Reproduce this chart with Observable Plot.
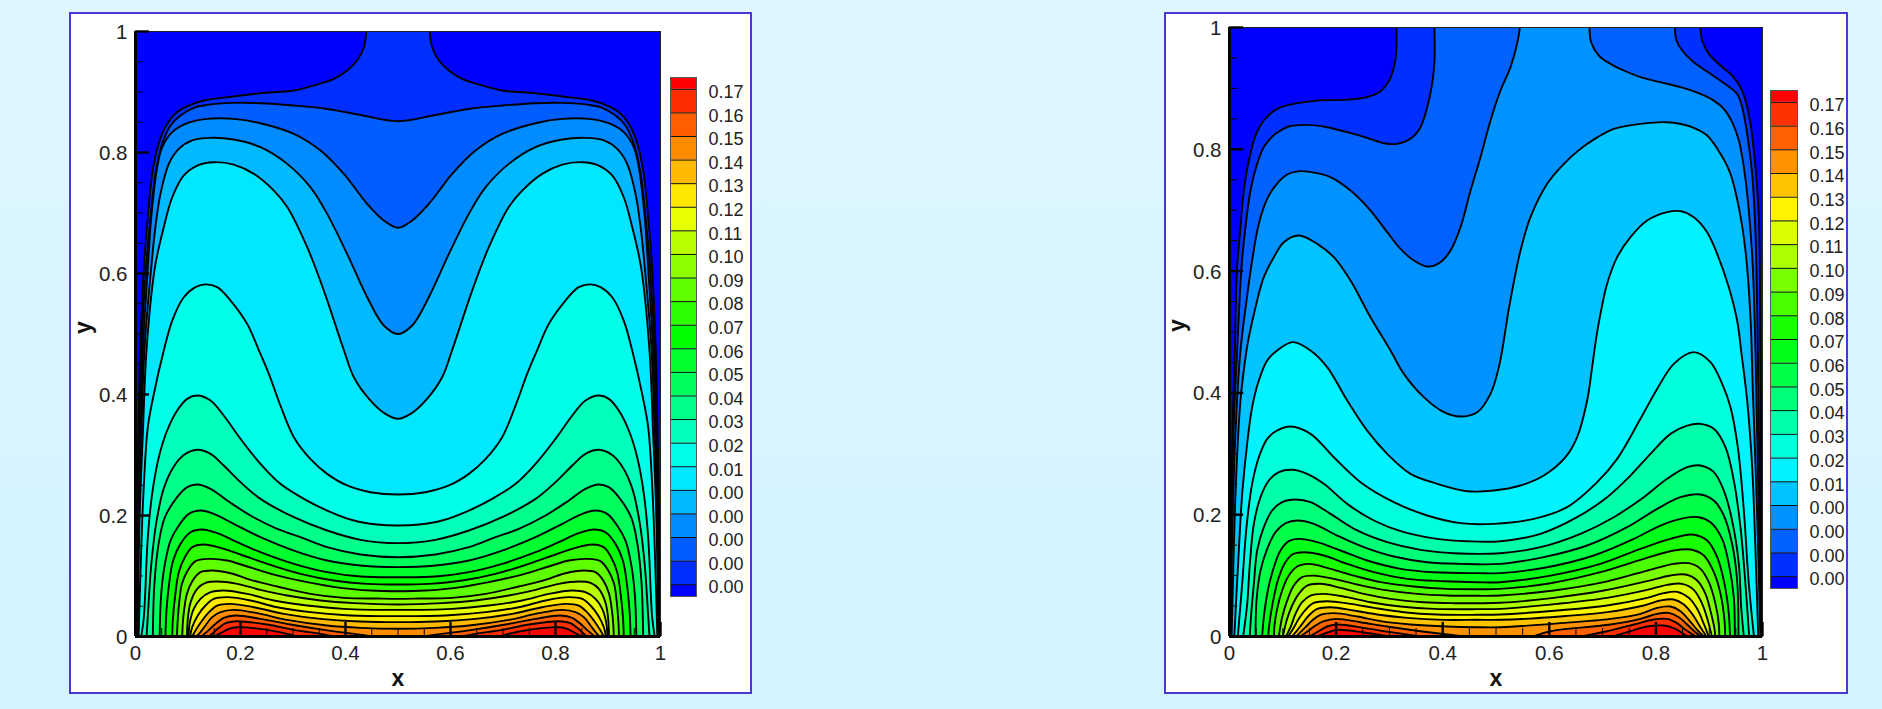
<!DOCTYPE html>
<html><head><meta charset="utf-8">
<style>
html,body{margin:0;padding:0;width:1882px;height:709px;overflow:hidden;background:linear-gradient(#e0f7ff,#d2f3ff);font-family:"Liberation Sans",Arial,sans-serif}
.box{position:absolute;background:#fff;box-sizing:border-box;border:2px solid #4b38d2}
.abs{position:absolute}
svg{display:block;background:transparent!important}
</style>
<script src="https://cdn.jsdelivr.net/npm/d3@7"></script>
<script src="https://cdn.jsdelivr.net/npm/@observablehq/plot@0.6"></script>
</head><body>
<div class="box" style="left:69px;top:12px;width:683px;height:682px"></div>
<div class="box" style="left:1164px;top:12px;width:684px;height:682px"></div>
<script>
const majorTicks=[0,.2,.4,.6,.8,1];
const minorTicks=[.05,.1,.15,.25,.3,.35,.45,.5,.55,.65,.7,.75,.85,.9,.95];
const leftLabels=["0.17","0.16","0.15","0.14","0.13","0.12","0.11","0.10","0.09","0.08","0.07","0.06","0.05","0.04","0.03","0.02","0.01","0.00","0.00","0.00","0.00","0.00"];
const rightLabels=["0.17","0.16","0.15","0.14","0.13","0.12","0.11","0.10","0.09","0.08","0.07","0.06","0.05","0.04","0.03","0.02","0.01","0.00","0.00","0.00","0.00"];
const leftColors=["#ff0000","#ff2e00","#ff5d00","#ff8b00","#ffba00","#ffe800","#e8ff00","#b9ff00","#8bff00","#5dff00","#2eff00","#00ff00","#00ff2e","#00ff5d","#00ff8b","#00ffba","#00ffe8","#00e8ff","#00b9ff","#008bff","#005dff","#002eff","#0000ff"];
const rightColors=["#ff0000","#ff3000","#ff6100","#ff9200","#ffc300","#fff300","#dbff00","#aaff00","#79ff00","#49ff00","#18ff00","#00ff18","#00ff49","#00ff79","#00ffaa","#00ffdb","#00f3ff","#00c3ff","#0092ff","#0061ff","#0030ff","#0000ff"];

// Left panel contours as [x, y]
const L1=[[.001,0],[.003,.2],[.0055,.335],[.009,.473],[.016,.61],[.0235,.693],[.032,.765],[.044,.8143],[.06,.8473],[.079,.8666],[.102,.8776],[.13,.886],[.187,.8925],[.238,.898],[.3016,.9024],[.34,.911],[.378,.9217],[.403,.9355],[.422,.952],[.435,.974],[.4394,1],[.4394,1.06],[.5606,1.06],[.5606,1],[.565,.974],[.578,.952],[.597,.9355],[.622,.9217],[.66,.911],[.6984,.9024],[.762,.898],[.813,.8925],[.87,.886],[.898,.8776],[.921,.8666],[.94,.8473],[.956,.8143],[.968,.765],[.9765,.693],[.984,.61],[.991,.473],[.9945,.335],[.997,.2],[.999,0]];
const L2=[[.0015,0],[.004,.2],[.007,.335],[.011,.473],[.02,.61],[.0286,.693],[.038,.765],[.051,.8143],[.0667,.8446],[.0857,.861],[.111,.8738],[.1365,.8787],[.187,.882],[.238,.8815],[.3016,.8776],[.365,.872],[.4286,.862],[.5,.8517],[.5714,.862],[.635,.872],[.6984,.8776],[.762,.8815],[.813,.882],[.8635,.8787],[.889,.8738],[.9143,.861],[.9333,.8446],[.949,.8143],[.962,.765],[.9714,.693],[.98,.61],[.989,.473],[.993,.335],[.996,.2],[.9985,0]];
const L3=[[.002,0],[.005,.2],[.009,.335],[.014,.473],[.0235,.61],[.03,.693],[.0413,.7757],[.051,.8088],[.07,.8336],[.0984,.8484],[.1365,.8556],[.187,.8556],[.238,.8484],[.3016,.8308],[.3524,.8033],[.3968,.7647],[.4413,.715],[.473,.6876],[.5,.6755],[.527,.6876],[.5587,.715],[.6032,.7647],[.6476,.8033],[.6984,.8308],[.762,.8484],[.813,.8556],[.8635,.8556],[.9016,.8484],[.93,.8336],[.949,.8088],[.9587,.7757],[.97,.693],[.9765,.61],[.986,.473],[.991,.335],[.995,.2],[.998,0]];
const L4=[[.003,0],[.0065,.2],[.011,.335],[.017,.473],[.03,.61],[.038,.677],[.0476,.7316],[.0635,.7812],[.0825,.806],[.108,.82],[.143,.8242],[.187,.8214],[.238,.8088],[.289,.7812],[.333,.7427],[.365,.6986],[.403,.6325],[.4413,.5608],[.473,.514],[.5,.5],[.527,.514],[.5587,.5608],[.597,.6325],[.635,.6986],[.667,.7427],[.711,.7812],[.762,.8088],[.813,.8214],[.857,.8242],[.892,.82],[.9175,.806],[.9365,.7812],[.9524,.7316],[.962,.677],[.97,.61],[.983,.473],[.989,.335],[.9935,.2],[.997,0]];
const L5=[[.004,0],[.008,.2],[.014,.335],[.021,.473],[.037,.61],[.054,.677],[.07,.726],[.092,.762],[.1175,.7785],[.149,.784],[.187,.78],[.2254,.7647],[.2635,.737],[.289,.71],[.327,.6435],[.3587,.5718],[.397,.473],[.4159,.4286],[.4476,.39],[.476,.368],[.5,.36],[.524,.368],[.5524,.39],[.5841,.4286],[.603,.473],[.6413,.5718],[.673,.6435],[.711,.71],[.7365,.737],[.7746,.7647],[.813,.78],[.851,.784],[.8825,.7785],[.908,.762],[.93,.726],[.946,.677],[.963,.61],[.979,.473],[.986,.335],[.992,.2],[.996,0]];
const L6=[[.006,0],[.0108,.142],[.016,.2523],[.0235,.346],[.035,.4011],[.054,.473],[.07,.5222],[.092,.5608],[.1143,.5774],[.1333,.582],[.1556,.5774],[.181,.5553],[.2127,.5167],[.235,.473],[.254,.434],[.276,.3818],[.3016,.3295],[.333,.2936],[.365,.2688],[.403,.2496],[.4476,.2385],[.5,.2347],[.5524,.2385],[.597,.2496],[.635,.2688],[.667,.2936],[.6984,.3295],[.724,.3818],[.746,.434],[.765,.473],[.7873,.5167],[.819,.5553],[.8444,.5774],[.8667,.582],[.8857,.5774],[.908,.5608],[.93,.5222],[.946,.473],[.965,.4011],[.9765,.346],[.984,.2523],[.9892,.142],[.994,0]];
const L7=[[.011,0],[.0159,.032],[.0235,.1642],[.0317,.2358],[.0444,.2964],[.0603,.3405],[.0794,.3735],[.0984,.3928],[.1175,.3983],[.1429,.39],[.168,.3653],[.2,.3267],[.238,.2854],[.276,.2523],[.3206,.2275],[.365,.2082],[.416,.1917],[.46,.1851],[.5,.1834],[.54,.1851],[.584,.1917],[.635,.2082],[.6794,.2275],[.724,.2523],[.762,.2854],[.8,.3267],[.832,.3653],[.8571,.39],[.8825,.3983],[.9016,.3928],[.9206,.3735],[.9397,.3405],[.9556,.2964],[.9683,.2358],[.9765,.1642],[.9841,.032],[.989,0]];
const L8=[[.021,0],[.024,.0414],[.03,.1186],[.04,.1902],[.054,.2453],[.073,.2811],[.092,.3],[.1175,.3086],[.1429,.3019],[.168,.2826],[.2,.2551],[.238,.2275],[.3016,.1972],[.365,.1752],[.4286,.1598],[.5,.1543],[.5714,.1598],[.635,.1752],[.6984,.1972],[.762,.2275],[.8,.2551],[.832,.2826],[.8571,.3019],[.8825,.3086],[.908,.3],[.927,.2811],[.946,.2453],[.96,.1902],[.97,.1186],[.976,.0414],[.979,0]];
const L9=[[.033,0],[.036,.087],[.044,.1531],[.056,.1972],[.0794,.2303],[.0984,.2468],[.1175,.2512],[.1429,.2441],[.1746,.2248],[.219,.2],[.27,.1779],[.3143,.1642],[.365,.1476],[.4286,.1355],[.5,.1311],[.5714,.1355],[.635,.1476],[.6857,.1642],[.73,.1779],[.781,.2],[.8254,.2248],[.8571,.2441],[.8825,.2512],[.9016,.2468],[.9206,.2303],[.944,.1972],[.956,.1531],[.964,.087],[.967,0]];
const L10=[[.046,0],[.049,.0705],[.056,.12],[.0667,.1586],[.0825,.1834],[.1016,.2027],[.1238,.2082],[.149,.2027],[.187,.1862],[.238,.1642],[.3016,.142],[.365,.1256],[.4286,.1173],[.5,.1146],[.5714,.1173],[.635,.1256],[.6984,.142],[.762,.1642],[.813,.1862],[.851,.2027],[.8762,.2082],[.8984,.2027],[.9175,.1834],[.9333,.1586],[.944,.12],[.951,.0705],[.954,0]];
const L11=[[.057,0],[.059,.043],[.064,.087],[.0717,.1256],[.0857,.1531],[.1048,.1724],[.127,.1768],[.1556,.1708],[.1937,.1559],[.238,.1393],[.3016,.12],[.365,.1063],[.4286,.0991],[.5,.098],[.5714,.0991],[.635,.1063],[.6984,.12],[.762,.1393],[.8063,.1559],[.8444,.1708],[.873,.1768],[.8952,.1724],[.9143,.1531],[.9283,.1256],[.936,.087],[.941,.043],[.943,0]];
const L12=[[.07,0],[.0715,.032],[.076,.0705],[.0825,.1063],[.094,.131],[.108,.1476],[.13,.152],[.162,.1465],[.2,.1355],[.2508,.12],[.3143,.1035],[.3778,.0925],[.4413,.087],[.5,.0859],[.5587,.087],[.6222,.0925],[.6857,.1035],[.7492,.12],[.8,.1355],[.838,.1465],[.87,.152],[.892,.1476],[.906,.131],[.9175,.1063],[.924,.0705],[.9285,.032],[.93,0]];
const L13=[[.079,0],[.08,.021],[.083,.054],[.0885,.087],[.0995,.109],[.1143,.1245],[.14,.1283],[.1746,.1256],[.2127,.1157],[.2635,.1024],[.327,.0898],[.3905,.0804],[.4476,.076],[.5,.0749],[.5524,.076],[.6095,.0804],[.673,.0898],[.7365,.1024],[.7873,.1157],[.8254,.1256],[.86,.1283],[.8857,.1245],[.9005,.109],[.9115,.087],[.917,.054],[.92,.021],[.921,0]];
const L14=[[.089,0],[.09,.02],[.0925,.043],[.098,.0705],[.109,.0925],[.1238,.1063],[.146,.109],[.181,.1046],[.219,.0936],[.27,.0826],[.333,.0705],[.3968,.0639],[.46,.0627],[.5,.0622],[.54,.0627],[.6032,.0639],[.667,.0705],[.73,.0826],[.781,.0936],[.819,.1046],[.854,.109],[.8762,.1063],[.891,.0925],[.902,.0705],[.9075,.043],[.91,.02],[.911,0]];
const L15=[[.098,0],[.1,.032],[.105,.0567],[.1175,.0788],[.1333,.0887],[.1556,.0909],[.1937,.087],[.238,.0771],[.289,.0677],[.3524,.0595],[.416,.0551],[.5,.0529],[.584,.0551],[.6476,.0595],[.711,.0677],[.762,.0771],[.8063,.087],[.8444,.0909],[.8667,.0887],[.8825,.0788],[.895,.0567],[.9,.032],[.902,0]];
const L16=[[.101,0],[.1035,.0236],[.111,.0457],[.1238,.0622],[.143,.0733],[.168,.076],[.2127,.0705],[.2635,.0595],[.327,.0512],[.3968,.0457],[.5,.044],[.6032,.0457],[.673,.0512],[.7365,.0595],[.7873,.0705],[.832,.076],[.857,.0733],[.8762,.0622],[.889,.0457],[.8965,.0236],[.899,0]];
const L17=[[.104,0],[.108,.0154],[.1187,.0347],[.1333,.0512],[.149,.0622],[.1746,.065],[.219,.0595],[.27,.0484],[.333,.0402],[.4095,.0347],[.5,.0336],[.5905,.0347],[.667,.0402],[.73,.0484],[.781,.0595],[.8254,.065],[.851,.0622],[.8667,.0512],[.8813,.0347],[.892,.0154],[.896,0]];
const L18=[[.108,0],[.1143,.0099],[.127,.0264],[.14,.0402],[.1556,.0512],[.181,.054],[.2254,.0484],[.2825,.0375],[.3524,.0292],[.4286,.0248],[.5,.0237],[.5714,.0248],[.6476,.0292],[.7175,.0375],[.7746,.0484],[.819,.054],[.8444,.0512],[.86,.0402],[.873,.0264],[.8857,.0099],[.892,0]];
const L19=[[.116,0],[.1238,.0072],[.1333,.0182],[.146,.032],[.162,.0402],[.187,.044],[.2317,.0386],[.289,.0275],[.365,.0182],[.4286,.0143],[.5,.0127],[.5714,.0143],[.635,.0182],[.711,.0275],[.7683,.0386],[.813,.044],[.838,.0402],[.854,.032],[.8667,.0182],[.8762,.0072],[.884,0]];
const L20a=[[.125,0],[.14,.011],[.1524,.0209],[.168,.0308],[.1905,.0347],[.238,.0292],[.2952,.0198],[.3587,.011],[.4286,.003],[.45,0]];
const L20b=[[.55,0],[.5714,.003],[.6413,.011],[.7048,.0198],[.762,.0292],[.8095,.0347],[.832,.0308],[.8476,.0209],[.86,.011],[.875,0]];
const L21a=[[.14,0],[.146,.0044],[.1587,.0143],[.1714,.022],[.1937,.0253],[.2508,.0198],[.3016,.011],[.3524,.0044],[.38,0]];
const L21b=[[.62,0],[.6476,.0044],[.6984,.011],[.7492,.0198],[.8063,.0253],[.8286,.022],[.8413,.0143],[.854,.0044],[.86,0]];
const L22a=[[.15,0],[.162,.0055],[.178,.0127],[.1937,.0154],[.2508,.011],[.2952,.003],[.305,0]];
const L22b=[[.695,0],[.7048,.003],[.7492,.011],[.8063,.0154],[.822,.0127],[.838,.0055],[.85,0]];
const leftLevels=[[L1],[L2],[L3],[L4],[L5],[L6],[L7],[L8],[L9],[L10],[L11],[L12],[L13],[L14],[L15],[L16],[L17],[L18],[L19],[L20a,L20b],[L21a,L21b],[L22a,L22b]];

// Right panel contours
const R1=[[.001,0],[.003,.2],[.006,.35],[.01,.4696],[.0144,.6064],[.0206,.6721],[.0269,.7323],[.0363,.7816],[.0488,.8226],[.0644,.8473],[.0894,.8664],[.1207,.8746],[.1645,.88],[.2145,.8812],[.258,.8856],[.2833,.8954],[.2958,.9075],[.305,.9239],[.312,.9513],[.3133,.973],[.3133,1],[.3133,1.06],[.8836,1.06],[.8836,1],[.8868,.9786],[.8993,.9567],[.9212,.9376],[.943,.9212],[.9587,.902],[.968,.88],[.9775,.8418],[.9868,.7706],[.9931,.6885],[.9962,.4696],[.999,0]];
const R2=[[.0015,0],[.004,.2],[.008,.35],[.0144,.4696],[.0225,.6064],[.03,.6721],[.0394,.7323],[.0519,.7761],[.0644,.8035],[.0863,.8254],[.1113,.8374],[.1457,.8401],[.1832,.8363],[.2208,.8281],[.2583,.8188],[.2896,.81],[.3146,.8089],[.3396,.8172],[.3583,.8363],[.3709,.8692],[.3802,.9075],[.3846,.9458],[.3846,1],[.3846,1.06],[.8355,1.06],[.8355,1],[.8386,.9786],[.8493,.9622],[.8711,.9431],[.9024,.9239],[.9337,.9047],[.9524,.891],[.9618,.8692],[.9712,.8254],[.9806,.7597],[.9868,.6612],[.9912,.4696],[.998,0]];
const R3=[[.002,0],[.006,.2],[.012,.35],[.0206,.4696],[.032,.5517],[.0425,.6174],[.055,.6776],[.0707,.7186],[.0863,.7405],[.1082,.7586],[.1332,.7641],[.1645,.7608],[.1895,.7542],[.227,.7323],[.2645,.6995],[.2958,.6639],[.3208,.6365],[.3458,.6174],[.3709,.6075],[.3959,.6146],[.4146,.6338],[.4334,.6721],[.4522,.7323],[.4709,.787],[.4897,.8473],[.5084,.8965],[.5272,.9348],[.5395,.9731],[.5447,1],[.5447,1.06],[.6754,1.06],[.6754,1],[.6785,.9759],[.6929,.954],[.7148,.9403],[.7398,.9294],[.7711,.9184],[.8086,.9102],[.846,.902],[.8836,.891],[.9087,.88],[.9274,.8664],[.9431,.8445],[.9556,.8144],[.965,.7706],[.9743,.6995],[.9818,.6064],[.9868,.4696],[.997,0]];
const R4=[[.004,0],[.012,.25],[.0206,.3875],[.0319,.4696],[.0363,.4915],[.0488,.5408],[.0644,.59],[.0832,.6229],[.1019,.6475],[.1301,.6584],[.1645,.6448],[.1957,.6229],[.227,.5845],[.2645,.5243],[.3021,.4696],[.3271,.4313],[.3646,.393],[.4021,.3683],[.4334,.3612],[.4647,.3683],[.4897,.3984],[.5053,.4422],[.5116,.4696],[.5245,.54],[.546,.6338],[.5647,.6885],[.596,.7433],[.6273,.7761],[.6585,.8007],[.69,.8195],[.721,.8336],[.7711,.8418],[.8211,.8445],[.8649,.8374],[.8961,.8226],[.9211,.7925],[.9399,.7597],[.9555,.705],[.968,.6338],[.9774,.5243],[.982,.4],[.99,.2],[.996,0]];
const R5=[[.009,0],[.0175,.1412],[.0238,.2342],[.0331,.3163],[.0425,.3766],[.055,.4203],[.0707,.4532],[.0894,.4696],[.1188,.4833],[.152,.4696],[.1832,.4422],[.2208,.3875],[.2583,.338],[.2958,.2999],[.3396,.2671],[.3896,.2507],[.4459,.2386],[.4959,.2397],[.5459,.2479],[.5897,.2643],[.6304,.2944],[.6523,.3273],[.671,.3875],[.68,.44],[.688,.49],[.697,.5343],[.7085,.5791],[.7273,.6229],[.7523,.6557],[.7836,.683],[.8211,.6968],[.8461,.6984],[.8711,.6885],[.8961,.6639],[.9149,.6283],[.9368,.5736],[.9524,.5188],[.9599,.4696],[.9712,.3875],[.9806,.2781],[.9868,.1412],[.992,0]];
const R6=[[.0156,0],[.0238,.0864],[.0319,.1795],[.0425,.2507],[.055,.2944],[.0707,.3246],[.0894,.3382],[.1144,.3448],[.152,.3328],[.1957,.2944],[.2458,.2534],[.3083,.2206],[.3709,.1987],[.4334,.1861],[.4959,.185],[.571,.1932],[.6335,.2124],[.6898,.2534],[.7273,.2917],[.771,.3574],[.8023,.4066],[.8336,.4477],[.8711,.4669],[.9024,.4504],[.9243,.4149],[.94,.3766],[.9537,.3109],[.965,.2069],[.9743,.0864],[.984,0]];
const R7=[[.0256,0],[.0332,.0536],[.0382,.1193],[.0457,.185],[.0582,.2288],[.0738,.2561],[.0926,.2698],[.1176,.2737],[.1457,.2671],[.177,.2507],[.2208,.2178],[.2708,.1905],[.3271,.1713],[.3896,.1604],[.4459,.1565],[.5084,.1565],[.5834,.1686],[.6522,.1959],[.7085,.2288],[.7523,.2643],[.7898,.3],[.8273,.3327],[.8586,.3464],[.8836,.3492],[.9087,.341],[.9305,.3109],[.9462,.256],[.9587,.1795],[.968,.0864],[.975,0]];
const R8=[[.038,0],[.0407,.0372],[.0457,.0864],[.0519,.1412],[.0644,.1795],[.08,.2069],[.0988,.2206],[.1238,.2249],[.152,.2206],[.1895,.2014],[.2395,.1741],[.2958,.1549],[.3583,.1423],[.4209,.1368],[.5084,.1368],[.5834,.1467],[.6585,.1686],[.721,.1959],[.7773,.2288],[.8211,.2589],[.8586,.278],[.8836,.2808],[.9087,.2698],[.9274,.2397],[.943,.1905],[.9556,.1193],[.96,.048],[.965,0]];
const R9=[[.0488,0],[.0507,.0591],[.0582,.1083],[.0707,.1439],[.0863,.1713],[.105,.186],[.1269,.1905],[.1582,.185],[.202,.1658],[.252,.1467],[.3083,.1313],[.3709,.122],[.4334,.1193],[.5084,.1193],[.5897,.1303],[.671,.1494],[.746,.1795],[.8023,.2096],[.8461,.2288],[.8836,.2332],[.9087,.2233],[.9274,.1987],[.943,.1522],[.9524,.092],[.955,0]];
const R10=[[.0613,0],[.0644,.0317],[.0719,.0755],[.0832,.1138],[.0957,.1412],[.1113,.1565],[.13,.1603],[.1645,.1549],[.2083,.1412],[.2583,.1248],[.3208,.1111],[.3834,.1056],[.4647,.104],[.5084,.104],[.596,.1138],[.6835,.133],[.7586,.1603],[.8086,.1822],[.8524,.1943],[.8805,.1959],[.9024,.1877],[.9243,.1603],[.9368,.1193],[.9462,.0646],[.948,0]];
const R11=[[.0725,0],[.0757,.0263],[.082,.0591],[.0907,.092],[.1032,.1193],[.1176,.1346],[.1395,.1384],[.177,.133],[.2208,.1193],[.2708,.1056],[.3333,.0947],[.4021,.0908],[.4647,.0892],[.5084,.0892],[.6022,.1],[.696,.1193],[.771,.1439],[.8273,.1603],[.868,.1675],[.8961,.1576],[.915,.1303],[.9287,.0864],[.9368,.0372],[.939,0]];
const R12=[[.0832,0],[.0844,.018],[.0894,.0454],[.0988,.0755],[.1113,.1],[.127,.1149],[.1489,.1193],[.1895,.1111],[.2333,.1],[.2833,.0892],[.3458,.082],[.4084,.0782],[.4647,.0777],[.5084,.0782],[.6022,.0875],[.696,.1056],[.7773,.1275],[.8336,.1412],[.865,.1428],[.8899,.133],[.9087,.1056],[.9212,.07],[.9287,.0263],[.93,0]];
const R13=[[.0926,0],[.0988,.0317],[.1094,.0618],[.1207,.0837],[.1363,.0974],[.1582,.0999],[.1957,.0946],[.2395,.0854],[.2896,.0766],[.3521,.07],[.4084,.0673],[.4647,.0668],[.5084,.0673],[.6085,.0755],[.7023,.0892],[.7836,.1083],[.8336,.1193],[.8617,.1204],[.8836,.1111],[.8993,.0892],[.9118,.0536],[.918,.0208],[.919,0]];
const R14=[[.1,0],[.1082,.029],[.1176,.0509],[.13,.07],[.1457,.0837],[.1707,.0865],[.2083,.0799],[.252,.07],[.3021,.0618],[.3646,.0563],[.4209,.0547],[.4647,.0547],[.5084,.0553],[.6085,.0635],[.7023,.0755],[.7836,.0909],[.8273,.1002],[.8555,.1018],[.8774,.092],[.893,.07],[.9037,.0372],[.9099,.0126],[.911,0]];
const R15=[[.106,0],[.1157,.018],[.1238,.0372],[.1363,.0563],[.152,.0673],[.177,.07],[.2208,.0646],[.2645,.0563],[.3208,.0493],[.3834,.0454],[.4647,.0449],[.5084,.0454],[.6147,.0536],[.7085,.0635],[.7836,.0766],[.8211,.0848],[.8492,.0865],[.8711,.0766],[.8868,.0536],[.8974,.0263],[.905,0]];
const R16=[[.11,0],[.1194,.0126],[.13,.029],[.1426,.0438],[.1582,.0553],[.1832,.058],[.227,.0536],[.2708,.047],[.3271,.0399],[.3896,.0361],[.4647,.0356],[.5084,.0361],[.6147,.0427],[.7085,.0509],[.7836,.0635],[.8148,.0712],[.8399,.0733],[.8617,.0635],[.8774,.0454],[.8899,.0208],[.899,0]];
const R17=[[.117,0],[.127,.0099],[.1363,.0208],[.1488,.0345],[.1645,.0454],[.1895,.0481],[.2333,.0427],[.2771,.0361],[.3333,.0306],[.4021,.0273],[.4647,.0274],[.5084,.0274],[.621,.0329],[.7085,.04],[.7773,.0509],[.8086,.0591],[.8336,.0607],[.8524,.0525],[.868,.0372],[.8836,.0153],[.895,0]];
const R18=[[.125,0],[.1332,.0071],[.1426,.0153],[.1551,.0263],[.1707,.0355],[.1957,.0383],[.2395,.0328],[.2833,.0252],[.3396,.0197],[.4084,.0164],[.4647,.0153],[.5084,.0153],[.621,.0219],[.7148,.029],[.7711,.0372],[.8023,.0471],[.8273,.0492],[.846,.0416],[.8617,.0274],[.8774,.011],[.89,0]];
const R19a=[[.133,0],[.1488,.0098],[.1613,.018],[.177,.0252],[.2,.029],[.2458,.0235],[.2958,.0164],[.3584,.0087],[.44,0]];
const R19b=[[.57,0],[.6022,.0087],[.7148,.0197],[.7711,.029],[.8023,.0372],[.8242,.0388],[.843,.0317],[.8586,.0197],[.8742,.0071],[.885,0]];
const R20a=[[.15,0],[.1695,.0098],[.1832,.0164],[.2033,.0197],[.2521,.0142],[.302,.0071],[.36,0]];
const R20b=[[.66,0],[.7085,.0087],[.7586,.0197],[.796,.0279],[.8211,.029],[.8399,.0219],[.8555,.011],[.875,0]];
const R21a=[[.165,0],[.1895,.0082],[.2033,.011],[.2521,.0066],[.3,0]];
const R21b=[[.72,0],[.7523,.0087],[.7836,.0164],[.8148,.018],[.8367,.0126],[.8511,.0044],[.86,0]];
const rightLevels=[[R1],[R2],[R3],[R4],[R5],[R6],[R7],[R8],[R9],[R10],[R11],[R12],[R13],[R14],[R15],[R16],[R17],[R18],[R19a,R19b],[R20a,R20b],[R21a,R21b]];

const font='"Liberation Sans",Arial,sans-serif';
function panel(levels,colors,o){
  const marks=[Plot.frame({fill:colors[colors.length-1],stroke:null})];
  levels.forEach((polys,i)=>{
    const fill=colors[colors.length-2-i];
    for(const poly of polys) marks.push(Plot.line(poly,{x:d=>d[0],y:d=>d[1],fill,stroke:"#000",strokeWidth:1.9,curve:"catmull-rom",clip:true}));
  });
  marks.push(
    Plot.frame({stroke:"#222",strokeWidth:1}),
    Plot.ruleX(minorTicks,{y1:0,y2:.0132,stroke:"#000",strokeWidth:1}),
    Plot.ruleY(minorTicks,{x1:0,x2:.0152,stroke:"#000",strokeWidth:1}),
    Plot.ruleX(majorTicks,{y1:0,y2:.0231,stroke:"#000",strokeWidth:2.4}),
    Plot.ruleY(majorTicks,{x1:0,x2:.0266,stroke:"#000",strokeWidth:2.4}),
    Plot.ruleX([0],{stroke:"#000",strokeWidth:3}),
    Plot.ruleY([0],{stroke:"#000",strokeWidth:3}),
    Plot.text(majorTicks,{x:d=>d,y:()=>0,text:d=>String(d),dy:17,fontSize:20.5,fill:"#222",fontFamily:font}),
    Plot.text(majorTicks,{x:()=>0,y:d=>d,text:d=>String(d),dx:-8,dy:1,textAnchor:"end",fontSize:20.5,fill:"#222",fontFamily:font}),
    Plot.text(["x"],{x:()=>.5,frameAnchor:"bottom",dy:49,fontWeight:"bold",fontSize:23,fill:"#111",fontFamily:font}),
    Plot.text(["y"],{y:()=>.5,frameAnchor:"left",dx:-52,rotate:-90,fontWeight:"bold",fontSize:23,fill:"#111",fontFamily:font})
  );
  const p=Plot.plot({width:o.w,height:o.h,marginLeft:o.ml,marginRight:o.mr,marginTop:o.mt,marginBottom:o.mb,
    x:{domain:[0,1],axis:null},y:{domain:[0,1],axis:null},style:{background:"transparent",overflow:"visible"},marks});
  p.classList.add("abs");p.style.left=o.left+"px";p.style.top=o.top+"px";
  document.body.appendChild(p);
}
function legend(labels,colors,o){
  const n=labels.length;
  const bands=colors.map((c,i)=>({c,y1:i===0?-.5:i-1,y2:i===n?n-.5:i}));
  const p=Plot.plot({width:o.w,height:o.h,marginLeft:o.ml,marginRight:o.mr,marginTop:o.mt,marginBottom:o.mb,
    x:{domain:[0,1],axis:null},y:{domain:[-.5,n-.5],reverse:true,axis:null},color:{type:"identity"},
    style:{background:"transparent",overflow:"visible"},
    marks:[
      Plot.rect(bands,{x1:()=>0,x2:()=>1,y1:"y1",y2:"y2",fill:"c"}),
      Plot.ruleY(labels.map((_,i)=>i),{stroke:"#111",strokeWidth:1}),
      Plot.frame({stroke:"#555",strokeWidth:1}),
      Plot.text(labels,{x:()=>1,y:(_,i)=>i,text:d=>d,dx:o.gap,dy:3,textAnchor:"start",fontSize:18,fill:"#222",fontFamily:font})
    ]});
  p.classList.add("abs");p.style.left=o.left+"px";p.style.top=o.top+"px";
  document.body.appendChild(p);
}
panel(leftLevels,leftColors,{left:69,top:12,w:682,h:682,ml:66,mr:91,mt:19,mb:58});
panel(rightLevels,rightColors,{left:1164,top:12,w:683,h:682,ml:65,mr:85,mt:15,mb:58});
legend(leftLabels,leftColors,{left:660,top:60,w:90,h:550,ml:10,mr:54,mt:17,mb:14,gap:12});
legend(rightLabels,rightColors,{left:1760,top:70,w:90,h:530,ml:10,mr:53,mt:20,mb:12,gap:12});
</script>
</body></html>
